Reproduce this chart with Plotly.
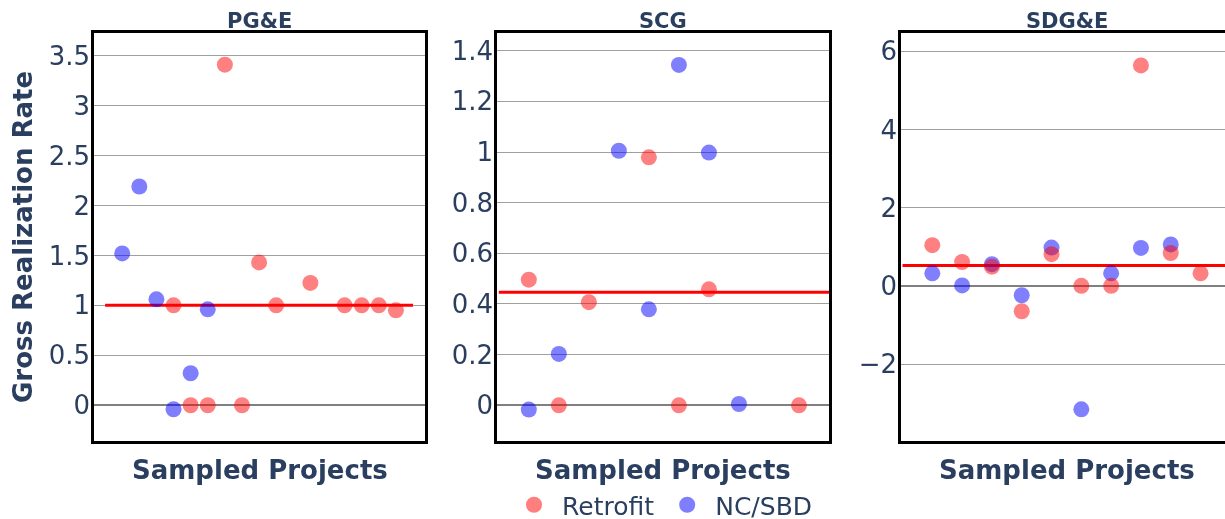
import plotly.graph_objects as go

# ---------------- data ----------------
utilities = ["PG&E", "SCG", "SDG&E"]
n_projects = [17, 10, 10]
avg_rate = [1.0, 0.446, 0.52]

pge_retro_x = [3, 4, 5, 6, 7, 8, 9, 11, 13, 14, 15, 16]
pge_retro_y = [1.0, 0.0, 0.0, 3.41, 0.0, 1.43, 1.0, 1.225, 1.0, 1.0, 1.0, 0.95]
pge_nc_x = [0, 1, 2, 3, 4, 5]
pge_nc_y = [1.52, 2.19, 1.06, -0.04, 0.32, 0.96]

scg_retro_x = [0, 1, 2, 4, 5, 6, 9]
scg_retro_y = [0.496, 0.0, 0.407, 0.979, 0.0, 0.458, 0.0]
scg_nc_x = [0, 1, 3, 4, 5, 6, 7]
scg_nc_y = [-0.017, 0.203, 1.005, 0.379, 1.344, 0.998, 0.005]

sdge_retro_x = [0, 1, 2, 3, 4, 5, 6, 7, 8, 9]
sdge_retro_y = [1.04, 0.61, 0.49, -0.65, 0.81, 0.0, 0.0, 5.64, 0.84, 0.32]
sdge_nc_x = [0, 1, 2, 3, 4, 5, 6, 7, 8]
sdge_nc_y = [0.32, 0.01, 0.555, -0.24, 0.98, -3.16, 0.32, 0.97, 1.06]

retro = [(pge_retro_x, pge_retro_y), (scg_retro_x, scg_retro_y), (sdge_retro_x, sdge_retro_y)]
nc = [(pge_nc_x, pge_nc_y), (scg_nc_x, scg_nc_y), (sdge_nc_x, sdge_nc_y)]

# ---------------- layout geometry ----------------
W, H = 1225, 519
ML, MR, MT, MB = 94, 0, 33, 78
PW = W - ML - MR
PH = H - MT - MB

def px2paper(px):
    return (px - ML) / PW

domains = [
    [px2paper(94), px2paper(425)],
    [px2paper(497), px2paper(829)],
    [px2paper(901), 1.0],
]
title_centers = [px2paper(259.5), px2paper(663), px2paper(1067)]
xranges = [[-1.65, 17.7], [-1.06, 10.0], [-1.05, 9.82]]
yranges = [[-0.358, 3.727], [-0.141, 1.47], [-3.97, 6.47]]
dticks = [0.5, 0.2, 2]

FONT = "Verdana, DejaVu Sans, sans-serif"
TXT = "#2a3f5f"

fig = go.Figure()

for i in range(3):
    xa = "x" if i == 0 else f"x{i+1}"
    ya = "y" if i == 0 else f"y{i+1}"
    n = n_projects[i]
    fig.add_trace(go.Scatter(
        x=[-1, n], y=[avg_rate[i], avg_rate[i]], mode="lines",
        line=dict(color="red", width=3), showlegend=False,
        hoverinfo="skip", xaxis=xa, yaxis=ya))
    fig.add_trace(go.Scatter(
        x=nc[i][0], y=nc[i][1], mode="markers", name="NC/SBD",
        marker=dict(color="blue", size=16), opacity=0.5,
        legendgroup="nc", showlegend=(i == 0), legendrank=2,
        xaxis=xa, yaxis=ya))
    fig.add_trace(go.Scatter(
        x=retro[i][0], y=retro[i][1], mode="markers", name="Retrofit",
        marker=dict(color="red", size=16), opacity=0.5,
        legendgroup="retro", showlegend=(i == 0), legendrank=1,
        xaxis=xa, yaxis=ya))

layout = dict(
    width=W, height=H,
    margin=dict(l=ML, r=MR, t=MT, b=MB, pad=0, autoexpand=False),
    paper_bgcolor="white", plot_bgcolor="white",
    font=dict(family=FONT, color=TXT, size=24),
    legend=dict(orientation="h", xref="container", yref="container",
                x=662 / W, xanchor="center",
                y=1 - 505 / H, yanchor="middle",
                font=dict(size=25, family=FONT, color=TXT),
                itemsizing="trace", itemwidth=46, traceorder="normal"),
    annotations=[],
)

for i in range(3):
    xkey = "xaxis" if i == 0 else f"xaxis{i+1}"
    ykey = "yaxis" if i == 0 else f"yaxis{i+1}"
    yanchor_ = "x" if i == 0 else f"x{i+1}"
    xanchor_ = "y" if i == 0 else f"y{i+1}"
    layout[xkey] = dict(domain=domains[i], range=xranges[i], anchor=xanchor_,
                        showgrid=False, zeroline=False, showticklabels=False,
                        ticks="", showline=True, linecolor="black",
                        linewidth=2.5, mirror=True)
    layout[ykey] = dict(domain=[0, 1], range=yranges[i], anchor=yanchor_,
                        dtick=dticks[i], tick0=0,
                        showgrid=True, gridcolor="#a0a0a0", gridwidth=1.2,
                        zeroline=True, zerolinecolor="#808080", zerolinewidth=2,
                        showline=True, linecolor="black", linewidth=2.5,
                        mirror=(i < 2), ticks="", ticklabelstandoff=-4,
                        tickfont=dict(size=26, family=FONT, color=TXT))
    layout["annotations"].append(dict(
        text=f"<b>{utilities[i]}</b>", xref="paper", yref="paper",
        x=title_centers[i], y=1.0, xanchor="center", yanchor="bottom",
        yshift=-2, showarrow=False, font=dict(size=21, family=FONT, color=TXT)))
    layout["annotations"].append(dict(
        text="<b>Sampled Projects</b>", xref="paper", yref="paper",
        x=title_centers[i], y=-(470 - (MT + PH)) / PH, xanchor="center",
        yanchor="middle", showarrow=False,
        font=dict(size=26, family=FONT, color=TXT)))

layout["annotations"].append(dict(
    text="<b>Gross Realization Rate</b>", xref="paper", yref="paper",
    x=px2paper(23), y=0.5, xanchor="center", yanchor="middle",
    textangle=-90, showarrow=False,
    font=dict(size=26, family=FONT, color=TXT)))

fig.update_layout(**layout)
fig.write_html("out.html")
